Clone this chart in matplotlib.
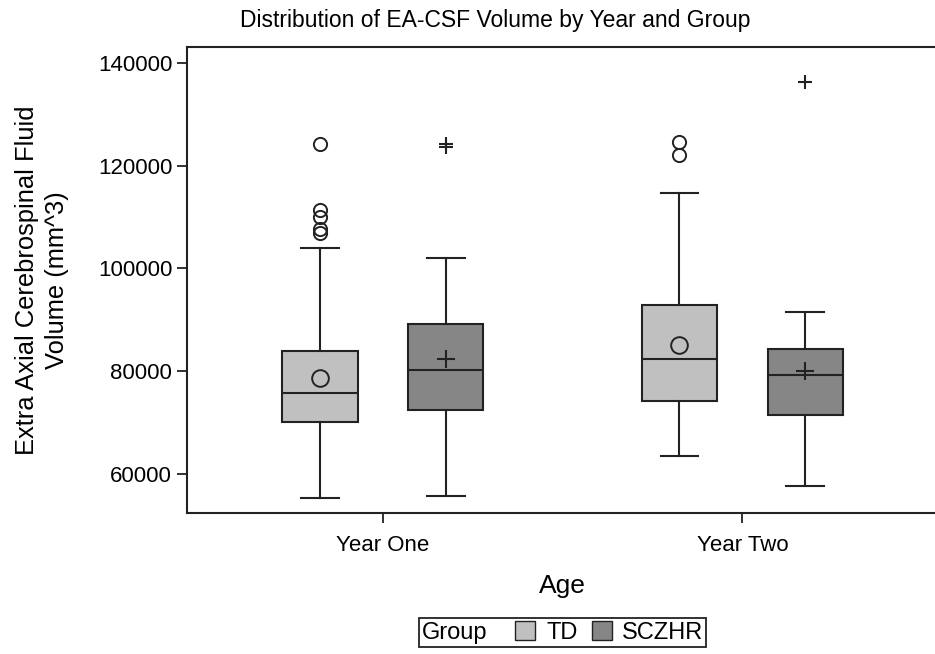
import matplotlib
matplotlib.use("Agg")
import matplotlib.pyplot as plt
from matplotlib.patches import Patch
from matplotlib.offsetbox import DrawingArea

plt.rcParams['font.family'] = ['Liberation Sans', 'DejaVu Sans']

# Datos (mm^3)
years = ["Year One", "Year Two"]
groups = ["TD", "SCZHR"]

td_q1 = [70140, 74150]
td_med = [75830, 82420]
td_q3 = [83900, 92950]
td_whislo = [55400, 63490]
td_whishi = [104050, 114600]
td_mean = [78740, 85190]
td_fliers = [[124100, 111300, 109900, 107600, 106900], [124600, 122000]]

sc_q1 = [72400, 71430]
sc_med = [80290, 79190]
sc_q3 = [89200, 84280]
sc_whislo = [55800, 57670]
sc_whishi = [102050, 91590]
sc_mean = [82420, 79960]
sc_fliers = [[124100, 123600], [136200]]

colores = {"TD": "#c0c0c0", "SCZHR": "#868686"}
linea = "#222222"

fig = plt.figure(figsize=(9.35, 6.54), dpi=100)
ax = fig.add_axes([0.1997, 0.2151, 0.8039, 0.7135])


def stats(q1, med, q3, lo, hi, mean, fl):
    return [dict(q1=q1[i], med=med[i], q3=q3[i], whislo=lo[i], whishi=hi[i],
                 mean=mean[i], fliers=fl[i]) for i in range(len(q1))]


ancho = 0.21
desp = 0.175
props = dict(color=linea, linewidth=1.5)

# TD: circulos
ax.bxp(stats(td_q1, td_med, td_q3, td_whislo, td_whishi, td_mean, td_fliers),
       positions=[i - desp for i in range(len(years))], widths=ancho,
       patch_artist=True, showmeans=True,
       boxprops=dict(facecolor=colores["TD"], edgecolor=linea, linewidth=1.5),
       medianprops=props, whiskerprops=props, capprops=props,
       meanprops=dict(marker='o', markersize=12, markerfacecolor='none',
                      markeredgecolor=linea, markeredgewidth=1.4),
       flierprops=dict(marker='o', markersize=9.5, markerfacecolor='none',
                       markeredgecolor=linea, markeredgewidth=1.4))

# SCZHR: cruces
ax.bxp(stats(sc_q1, sc_med, sc_q3, sc_whislo, sc_whishi, sc_mean, sc_fliers),
       positions=[i + desp for i in range(len(years))], widths=ancho,
       patch_artist=True, showmeans=True,
       boxprops=dict(facecolor=colores["SCZHR"], edgecolor=linea, linewidth=1.5),
       medianprops=props, whiskerprops=props, capprops=props,
       meanprops=dict(marker='+', markersize=12.5, markeredgecolor=linea,
                      markeredgewidth=1.5),
       flierprops=dict(marker='+', markersize=10.5, markeredgecolor=linea,
                       markeredgewidth=1.5))

ax.set_xlim(-0.545, 1.545)
ax.set_ylim(52380, 143100)
ax.set_xticks(range(len(years)))
ax.set_xticklabels(years)
ax.set_yticks([60000, 80000, 100000, 120000, 140000])
ax.tick_params(axis='both', labelsize=16, length=7.5, width=1.3, color=linea)
ax.tick_params(axis='x', pad=8)
ax.tick_params(axis='y', pad=3)
for s in ax.spines.values():
    s.set_color(linea)
    s.set_linewidth(1.5)

ax.set_xlabel("Age", fontsize=19, labelpad=13)
ax.set_ylabel("Extra Axial Cerebrospinal Fluid\nVolume (mm^3)", fontsize=18.4,
              labelpad=21, linespacing=1.3)

fig.text(0.530, 0.9587, "Distribution of EA-CSF Volume by Year and Group",
         fontsize=16.5, ha='center', va='baseline')

# Leyenda con el titulo a la izquierda
handles = [Patch(facecolor=colores[g], edgecolor=linea, linewidth=1.0) for g in groups]
leg = ax.legend(handles, groups, title="Group", ncol=2, loc='center',
                bbox_to_anchor=(0.5, -0.2555), fontsize=17, title_fontsize=17,
                handlelength=0.85, handleheight=0.85, handletextpad=0.45,
                columnspacing=0.6, borderpad=0.12, fancybox=False,
                edgecolor=linea, framealpha=1)
leg.get_frame().set_linewidth(1.3)
vp = leg._legend_box
titulo = vp.get_children()[0]
hp = vp.get_children()[1]
vp._children = [hp]
hp._children.insert(0, titulo)
hp._children.insert(1, DrawingArea(0, 0))

fig.savefig("out.png", dpi=100)
